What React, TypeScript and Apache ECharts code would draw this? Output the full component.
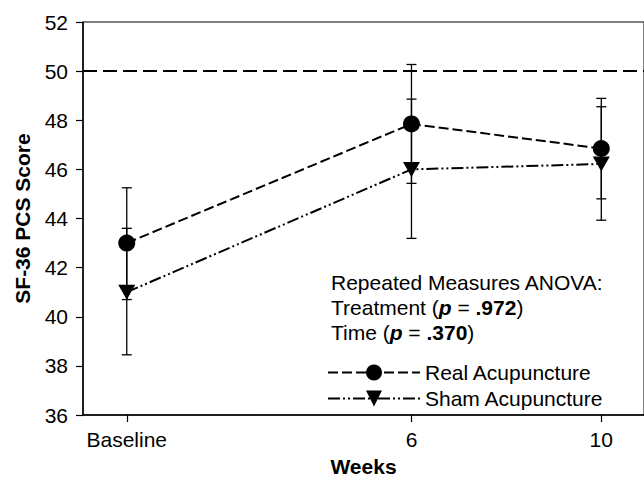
import React, { useEffect, useRef } from "react";
import * as echarts from "echarts";

// Data
const weekValues = [0, 6, 10];
const weekLabels = ["Baseline", "6", "10"];
const realName = "Real Acupuncture";
const shamName = "Sham Acupuncture";
const realMean = [43.0, 47.85, 46.85];
const realLow = [40.7, 45.43, 44.8];
const realHigh = [45.25, 50.27, 48.89];
const shamMean = [41.0, 46.0, 46.22];
const shamLow = [38.45, 43.19, 43.93];
const shamHigh = [43.6, 48.86, 48.55];
const referenceValue = 50;
const yMin = 36;
const yMax = 52;
const yStep = 2;

const FONT = "'Liberation Sans', Arial, Helvetica, sans-serif";
const FS = 21;

export default function App() {
  const ref = useRef<HTMLDivElement>(null);

  useEffect(() => {
    document.body.style.margin = "0";
    if (!ref.current) return;
    const chart = echarts.init(ref.current, null, { renderer: "svg" });

    const errData = [
      ...weekValues.map((w, i) => [w, realLow[i], realHigh[i]]),
      ...weekValues.map((w, i) => [w, shamLow[i], shamHigh[i]]),
    ];

    const option: any = {
      animation: false,
      textStyle: { fontFamily: FONT, color: "#000" },
      grid: {
        left: 83,
        right: -3,
        top: 22,
        bottom: 63,
        show: true,
        borderColor: "#000",
        borderWidth: 1,
      },
      xAxis: {
        type: "value",
        min: -0.922,
        max: 10.9,
        name: "Weeks",
        nameLocation: "middle",
        nameGap: 41,
        nameTextStyle: { fontSize: FS, fontWeight: "bold", color: "#000", fontFamily: FONT },
        axisLine: { show: true, onZero: false, lineStyle: { color: "#000", width: 1.5 } },
        axisTick: {
          show: true,
          inside: false,
          length: 7,
          customValues: weekValues,
          lineStyle: { color: "#000", width: 1.2 },
        },
        axisLabel: {
          customValues: weekValues,
          margin: 14,
          fontSize: FS,
          color: "#000",
          fontFamily: FONT,
          formatter: (v: number) => {
            const i = weekValues.indexOf(v);
            return i >= 0 ? weekLabels[i] : "";
          },
        },
        splitLine: { show: false },
      },
      yAxis: {
        type: "value",
        min: yMin,
        max: yMax,
        interval: yStep,
        name: "SF-36 PCS Score",
        nameLocation: "middle",
        nameGap: 50,
        nameTextStyle: { fontSize: FS, fontWeight: "bold", color: "#000", fontFamily: FONT },
        axisLine: { show: true, onZero: false, lineStyle: { color: "#000", width: 1.5 } },
        axisTick: { show: true, inside: false, length: 7, lineStyle: { color: "#000", width: 1.2 } },
        axisLabel: { margin: 15, fontSize: FS, color: "#000", fontFamily: FONT },
        splitLine: { show: false },
      },
      legend: {
        data: [realName, shamName],
        orient: "vertical",
        left: 322,
        top: 357,
        itemWidth: 92,
        itemHeight: 20,
        itemGap: 5,
        textStyle: { fontSize: FS, color: "#000", fontFamily: FONT },
      },
      graphic: [
        {
          type: "text",
          left: 331,
          top: 270,
          style: {
            text:
              "Repeated Measures ANOVA:\nTreatment ({p|p} = {b|.972})\nTime ({p|p} = {b|.370})",
            fontSize: FS,
            fontFamily: FONT,
            lineHeight: 25,
            fill: "#000",
            rich: {
              p: { fontSize: FS, fontFamily: FONT, fontWeight: "bold", fontStyle: "italic", lineHeight: 25 },
              b: { fontSize: FS, fontFamily: FONT, fontWeight: "bold", lineHeight: 25 },
            },
          },
        },
      ],
      series: [
        {
          name: "errorbars",
          type: "custom",
          data: errData,
          encode: { x: 0, y: [1, 2] },
          z: 1,
          silent: true,
          renderItem: (params: any, api: any) => {
            const x = api.value(0);
            const lo = api.coord([x, api.value(1)]);
            const hi = api.coord([x, api.value(2)]);
            const w = 5;
            const st = { stroke: "#000", lineWidth: 1.3 };
            return {
              type: "group",
              children: [
                { type: "line", shape: { x1: lo[0], y1: lo[1], x2: hi[0], y2: hi[1] }, style: st },
                { type: "line", shape: { x1: lo[0] - w, y1: lo[1], x2: lo[0] + w, y2: lo[1] }, style: st },
                { type: "line", shape: { x1: hi[0] - w, y1: hi[1], x2: hi[0] + w, y2: hi[1] }, style: st },
              ],
            };
          },
        },
        {
          name: realName,
          type: "line",
          z: 3,
          data: weekValues.map((w, i) => [w, realMean[i]]),
          symbol: "circle",
          symbolSize: 17,
          itemStyle: { color: "#000" },
          lineStyle: { color: "#000", width: 2, type: [10, 4] },
          markLine: {
            silent: true,
            symbol: "none",
            label: { show: false },
            lineStyle: { color: "#000", width: 2, type: [14, 6] },
            data: [{ yAxis: referenceValue }],
          },
        },
        {
          name: shamName,
          type: "line",
          z: 3,
          data: weekValues.map((w, i) => [w, shamMean[i]]),
          symbol: "triangle",
          symbolRotate: 180,
          symbolSize: [17, 15],
          itemStyle: { color: "#000" },
          lineStyle: { color: "#000", width: 2, type: [12, 3, 2, 3, 2, 3] },
        },
      ],
    };

    chart.setOption(option);
    return () => chart.dispose();
  }, []);

  return <div ref={ref} style={{ width: 644, height: 482 }} />;
}
